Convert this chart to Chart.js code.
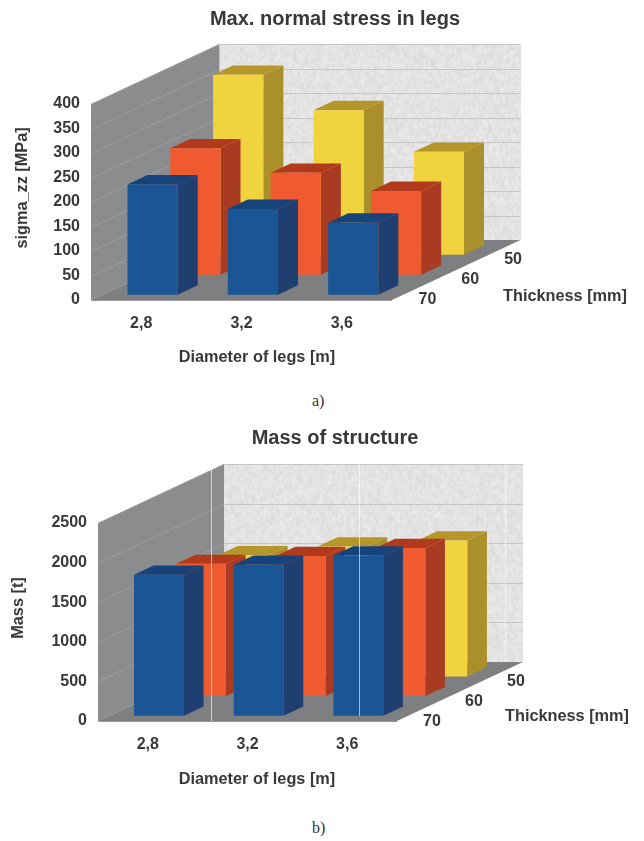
<!DOCTYPE html>
<html>
<head>
<meta charset="utf-8">
<title>Legs</title>
<script src="https://cdn.jsdelivr.net/npm/chart.js@4"></script>
<style>
html, body { margin: 0; padding: 0; background: #fff; }
body { position: relative; width: 644px; height: 841px; overflow: hidden; }
canvas { position: absolute; left: 0; filter: blur(0.45px); }
#chartA { top: 0; }
#chartB { top: 420px; }
.cap { position: absolute; font-family: "Liberation Serif", serif; font-size: 16px; color: #333; }
</style>
</head>
<body>
<canvas id="chartA" width="644" height="390"></canvas>
<span class="cap" style="left:312px;top:392px">a)</span>
<canvas id="chartB" width="644" height="390"></canvas>
<span class="cap" style="left:312px;top:819px">b)</span>
<script>
const diameters = ['2,8', '3,2', '3,6'];
const thicknesses = ['70', '60', '50'];

// chart a, MPa
const stress70 = [225, 175, 147];
const stress60 = [258, 208, 171];
const stress50 = [367, 295, 210];

// chart b, t
const mass70 = [1780, 1906, 2024];
const mass60 = [1670, 1770, 1870];
const mass50 = [1530, 1640, 1717];

const colours = [
    { front: '#1a5595', side: '#1f3f70', top: '#17437c' },
    { front: '#ef5a30', side: '#a83b22', top: '#b23a1c' },
    { front: '#f1d340', side: '#ab8f2b', top: '#b4962a' }
];

const FONT = '"Liberation Sans", Arial, sans-serif';
const BAR_DEPTH = 0.156;

// mottled back wall, fixed sequence so the picture is the same every run
function wallTexture() {
    const c = document.createElement('canvas');
    c.width = 150;
    c.height = 70;
    const g = c.getContext('2d');
    let seed = 12345;
    for (let y = 0; y < c.height; y++) {
        for (let x = 0; x < c.width; x++) {
            seed = (seed * 1103515245 + 12345) & 0x7fffffff;
            const v = 220 + (seed >> 16) % 16;
            g.fillStyle = `rgb(${v},${v},${v + 1})`;
            g.fillRect(x, y, 1, 1);
        }
    }
    return c;
}
const texture = wallTexture();

function poly(ctx, pts, fill) {
    ctx.beginPath();
    pts.forEach((p, i) => i ? ctx.lineTo(p[0], p[1]) : ctx.moveTo(p[0], p[1]));
    ctx.closePath();
    ctx.fillStyle = fill;
    ctx.fill();
}

// rows sit one behind the other along the depth vector
function rowOffset(depth, i) {
    const f = (i + 0.5) / thicknesses.length - BAR_DEPTH / 2;
    return [depth.dx * f, depth.dy * f];
}

const box3d = {
    id: 'box3d',
    beforeDatasetsDraw(chart, args, opts) {
        const ctx = chart.ctx;
        const { left, right, top, bottom } = chart.chartArea;
        const d = opts.depth;
        const y = chart.scales.y;

        ctx.save();
        // left wall, floor
        poly(ctx, [[left, top], [left + d.dx, top + d.dy], [left + d.dx, bottom + d.dy], [left, bottom]], '#8b8c8e');
        poly(ctx, [[left, bottom], [right, bottom], [right + d.dx, bottom + d.dy], [left + d.dx, bottom + d.dy]], '#7e7f81');
        // back wall
        ctx.imageSmoothingEnabled = true;
        ctx.drawImage(texture, left + d.dx, top + d.dy, right - left, bottom - top);

        ctx.lineWidth = 1;
        y.ticks.forEach(t => {
            const py = Math.round(y.getPixelForValue(t.value)) + 0.5;
            if (t.value > 0) {
                ctx.strokeStyle = '#9c9d9f';
                ctx.beginPath();
                ctx.moveTo(left, py);
                ctx.lineTo(left + d.dx, py + d.dy);
                ctx.stroke();
                ctx.strokeStyle = '#c3c5c7';
                ctx.beginPath();
                ctx.moveTo(left + d.dx, py + d.dy);
                ctx.lineTo(right + d.dx, py + d.dy);
                ctx.stroke();
            }
        });
        ctx.strokeStyle = '#9a9a9c';
        ctx.beginPath();
        ctx.moveTo(left, bottom + 0.5);
        ctx.lineTo(right, bottom + 0.5);
        ctx.stroke();
        ctx.restore();
    },
    beforeDatasetDraw(chart, args, opts) {
        const ctx = chart.ctx;
        const i = args.index;
        const off = rowOffset(opts.depth, i);
        const dx = opts.depth.dx * BAR_DEPTH;
        const dy = opts.depth.dy * BAR_DEPTH;
        ctx.save();
        ctx.translate(off[0], off[1]);
        args.meta.data.forEach(bar => {
            const p = bar.getProps(['x', 'y', 'base', 'width'], true);
            const l = p.x - p.width / 2;
            const r = p.x + p.width / 2;
            poly(ctx, [[r, p.y], [r + dx, p.y + dy], [r + dx, p.base + dy], [r, p.base]], colours[i].side);
            poly(ctx, [[l, p.y], [l + dx, p.y + dy], [r + dx, p.y + dy], [r, p.y]], colours[i].top);
        });
    },
    afterDatasetDraw(chart) {
        chart.ctx.restore();
    },
    afterDraw(chart, args, opts) {
        const ctx = chart.ctx;
        const { right, bottom } = chart.chartArea;
        const d = opts.depth;
        ctx.save();
        ctx.fillStyle = '#383838';
        ctx.textBaseline = 'middle';
        ctx.textAlign = 'center';

        // third axis, read from the same depth vector as the rows
        ctx.font = 'bold 16px ' + FONT;
        thicknesses.forEach((t, i) => {
            const f = (i + 0.5) / thicknesses.length;
            ctx.fillText(t, right + d.dx * f + 14, bottom + d.dy * f + 10);
        });

        ctx.font = 'bold 20px ' + FONT;
        ctx.fillText(opts.title, opts.titleAt[0], opts.titleAt[1]);
        ctx.font = 'bold 16.3px ' + FONT;
        ctx.fillText(opts.xTitle, opts.xTitleAt[0], opts.xTitleAt[1]);
        ctx.fillText('Thickness [mm]', opts.zTitleAt[0], opts.zTitleAt[1]);

        ctx.translate(opts.yTitleAt[0], opts.yTitleAt[1]);
        ctx.rotate(-Math.PI / 2);
        ctx.fillText(opts.yTitle, 0, 0);
        ctx.restore();

        // light scan streaks in the second figure
        if (opts.streaks) {
            ctx.save();
            ctx.strokeStyle = 'rgba(255,255,255,0.6)';
            ctx.lineWidth = 1;
            opts.streaks.forEach(s => {
                ctx.beginPath();
                ctx.moveTo(s[0] + 0.5, s[1]);
                ctx.lineTo(s[0] + 0.5, s[2]);
                ctx.stroke();
            });
            ctx.restore();
        }
    }
};

function makeChart(id, series, cfg) {
    const canvas = document.getElementById(id);
    return new Chart(canvas.getContext('2d'), {
        type: 'bar',
        data: {
            labels: diameters,
            datasets: series.map((values, i) => ({
                label: thicknesses[i],
                data: values,
                backgroundColor: colours[i].front,
                borderWidth: 0,
                grouped: false,
                barPercentage: 0.5,
                categoryPercentage: 1,
                clip: false
            }))
        },
        options: {
            responsive: false,
            animation: false,
            layout: {
                padding: {
                    left: 0,
                    top: cfg.top,
                    right: canvas.width - cfg.right,
                    bottom: canvas.height - cfg.bottom - 40
                }
            },
            scales: {
                x: {
                    grid: { display: false, drawTicks: false },
                    border: { display: false },
                    ticks: { color: '#383838', padding: 14, font: { family: FONT, size: 16, weight: 'bold' } },
                    afterFit: s => { s.height = 40; }
                },
                y: {
                    min: 0,
                    max: cfg.max,
                    grid: { display: false, drawTicks: false },
                    border: { display: false },
                    ticks: {
                        stepSize: cfg.step,
                        color: '#383838',
                        padding: 11,
                        font: { family: FONT, size: 16, weight: 'bold' },
                        callback: v => String(v)
                    },
                    afterFit: s => { s.width = cfg.left; }
                }
            },
            plugins: {
                legend: { display: false },
                title: { display: false },
                tooltip: { enabled: false },
                box3d: cfg.box
            }
        },
        plugins: [box3d]
    });
}

makeChart('chartA', [stress70, stress60, stress50], {
    left: 91, right: 392, top: 104, bottom: 300, max: 400, step: 50,
    box: {
        depth: { dx: 128.5, dy: -60 },
        title: 'Max. normal stress in legs',
        titleAt: [335, 19],
        xTitle: 'Diameter of legs [m]',
        xTitleAt: [257, 358],
        yTitle: 'sigma_zz [MPa]',
        yTitleAt: [23, 188],
        zTitleAt: [565, 297]
    }
});

makeChart('chartB', [mass70, mass60, mass50], {
    left: 98, right: 397, top: 103, bottom: 301, max: 2500, step: 500,
    box: {
        depth: { dx: 126, dy: -59 },
        title: 'Mass of structure',
        titleAt: [335, 18],
        xTitle: 'Diameter of legs [m]',
        xTitleAt: [257, 360],
        yTitle: 'Mass [t]',
        yTitleAt: [19, 188],
        zTitleAt: [567, 297],
        streaks: [[211, 46, 301], [359, 44, 296], [505, 44, 242]]
    }
});
</script>
</body>
</html>
